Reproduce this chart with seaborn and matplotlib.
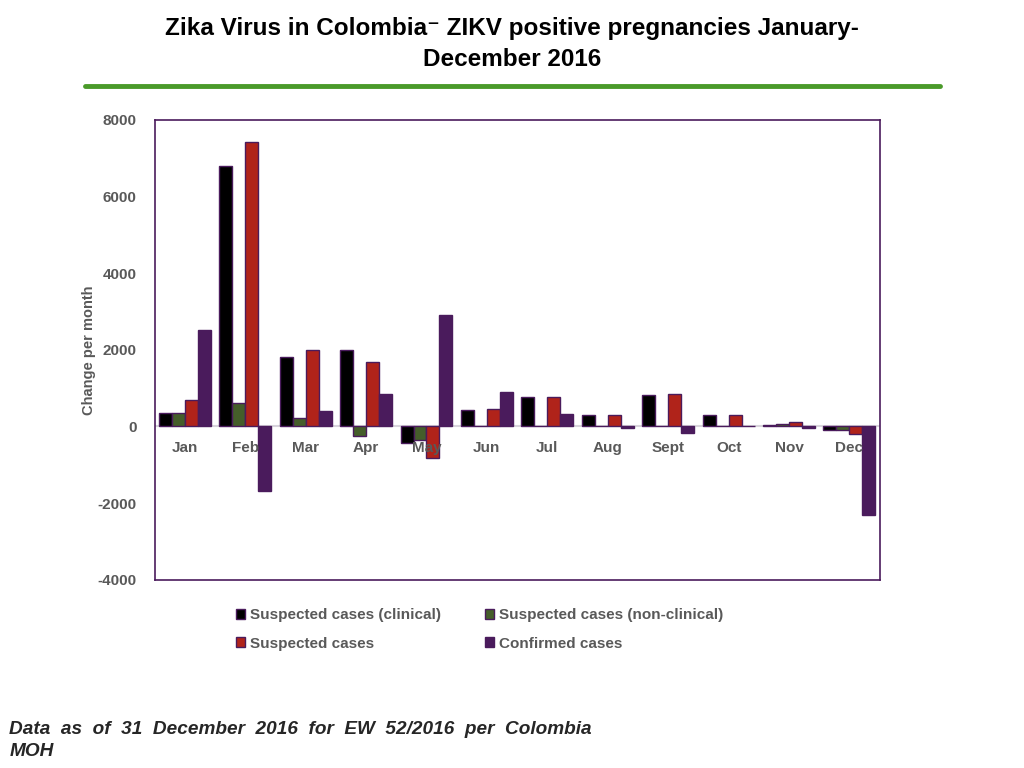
import pandas as pd
import matplotlib.pyplot as plt
import seaborn as sns
from matplotlib.lines import Line2D

# values (change per month)
months = ['Jan', 'Feb', 'Mar', 'Apr', 'May', 'Jun', 'Jul', 'Aug', 'Sept', 'Oct', 'Nov', 'Dec']
series = ['Suspected cases (clinical)', 'Suspected cases (non-clinical)',
          'Suspected cases', 'Confirmed cases']
clinical = [350, 6800, 1810, 2000, -420, 420, 760, 290, 830, 290, 30, -100]
non_clinical = [350, 620, 215, -260, -360, 20, 20, 20, 20, 20, 70, -90]
suspected = [700, 7410, 1990, 1680, -830, 460, 760, 290, 860, 290, 120, -200]
confirmed = [2530, -1690, 400, 840, 2900, 900, 330, -40, -170, 20, -40, -2320]

colors = ['#000000', '#455e2a', '#b0231a', '#4a1b5c']
edge = '#4a1b5c'
gray = '#595959'

df = pd.DataFrame({
    'month': months * 4,
    'series': [s for s in series for _ in months],
    'value': clinical + non_clinical + suspected + confirmed,
})

sns.set_style('white')
plt.rcParams['font.family'] = ['Liberation Sans', 'DejaVu Sans']
plt.rcParams['axes.unicode_minus'] = False

fig = plt.figure(figsize=(10.24, 7.68), dpi=100)
ax = fig.add_axes([0.151, 0.245, 0.708, 0.599])

ax.axhline(0, color='#d8d4dc', lw=1.5, zorder=0.5)
sns.barplot(data=df, x='month', y='value', hue='series', order=months,
            hue_order=series, palette=colors, width=0.86, gap=0,
            edgecolor=edge, linewidth=1, saturation=1, ax=ax, zorder=2)

ax.set_ylim(-4000, 8000)
ax.set_yticks(range(-4000, 8001, 2000))
ax.set_xlim(-0.5, len(months) - 0.5)
ax.tick_params(axis='y', length=0, pad=13, labelsize=11, labelcolor=gray)
for lab in ax.get_yticklabels():
    lab.set_fontweight('bold')
ax.set_xticks([])
ax.set_xlabel('')
ax.set_ylabel('Change per month', fontsize=10.5, fontweight='bold', color=gray, labelpad=1)

for sp in ax.spines.values():
    sp.set_visible(True)
    sp.set_color(edge)
    sp.set_linewidth(1.2)

# month labels just under the zero line
for i, m in enumerate(months):
    ax.annotate(m, xy=(i, 0), xytext=(0, -15.5), textcoords='offset points',
                ha='center', va='center', fontsize=11, fontweight='bold',
                color=gray, zorder=3)

# legend in two columns below the plot
handles, labels = ax.get_legend_handles_labels()
idx = [0, 2, 1, 3]
ax.legend([handles[i] for i in idx], [labels[i] for i in idx], ncol=2,
          loc='upper left', bbox_to_anchor=(0.217, 0.226), bbox_transform=fig.transFigure,
          frameon=False, handlelength=0.6, handleheight=0.6, handletextpad=0.3,
          columnspacing=2.9, labelspacing=0.95,
          prop={'weight': 'bold', 'size': 11}, labelcolor=gray)

fig.text(0.5, 0.943, 'Zika Virus in Colombia\u207b ZIKV positive pregnancies January-\nDecember 2016',
         ha='center', va='center', fontsize=17.5, fontweight='bold', color='black',
         linespacing=1.42)
fig.add_artist(Line2D([85 / 1024, 940 / 1024], [1 - 86 / 768, 1 - 86 / 768],
                      color='#4a9a2a', lw=3.5))

fig.text(0.009, 0.036, 'Data  as  of  31  December  2016  for  EW  52/2016  per  Colombia\nMOH',
         ha='left', va='center', fontsize=13.7, fontweight='bold', style='italic',
         linespacing=1.35)

fig.savefig('out.png', dpi=100)
plt.close('all')
